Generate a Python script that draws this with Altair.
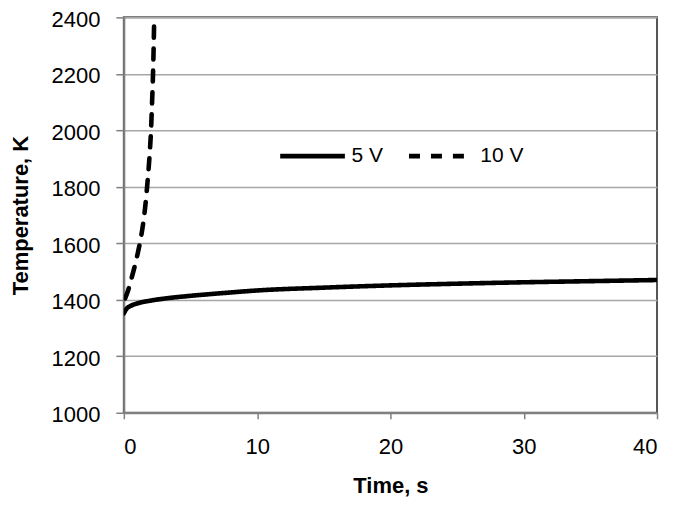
import altair as alt
import pandas as pd

t5 = [0, 0.2, 0.5, 1, 2, 3, 5, 7.5, 10, 15, 20, 25, 30, 35, 40]
T5 = [1352, 1368, 1378, 1387, 1397, 1404, 1414, 1424, 1433, 1443, 1451, 1457, 1462, 1466, 1470]

t10 = [0.1, 0.3, 0.6, 0.9, 1.2, 1.45, 1.65, 1.8, 1.93, 2.04, 2.12, 2.19, 2.24, 2.28]
T10 = [1405, 1430, 1480, 1535, 1600, 1670, 1750, 1830, 1910, 2000, 2100, 2200, 2300, 2400]

series = ["5 V", "10 V"]

df = pd.concat([
    pd.DataFrame({"t": t5, "T": T5, "s": series[0], "o": range(len(t5))}),
    pd.DataFrame({"t": t10, "T": T10, "s": series[1], "o": range(len(t10))}),
])

FONT = "Liberation Sans"

chart = alt.Chart(df).mark_line(color="black", strokeWidth=4.6, interpolate="monotone",
                                clip=True, strokeCap="round").encode(
    x=alt.X("t:Q", title="Time, s",
            scale=alt.Scale(domain=[0, 40], nice=False),
            axis=alt.Axis(values=[0, 10, 20, 30, 40], grid=False, tickSize=6, format="d",
                          labelPadding=18, titlePadding=18)),
    y=alt.Y("T:Q", title="Temperature, K",
            scale=alt.Scale(domain=[1000, 2400], nice=False),
            axis=alt.Axis(values=list(range(1000, 2401, 200)), grid=True, tickSize=8,
                          format="d", labelPadding=16, labelOffset=2, titlePadding=19)),
    strokeDash=alt.StrokeDash("s:N", title=None,
                              scale=alt.Scale(domain=series, range=[[1, 0], [11, 11]]),
                              legend=alt.Legend(orient="none", legendX=154, legendY=104,
                                                direction="horizontal", symbolType="stroke",
                                                symbolSize=4200, symbolStrokeWidth=4.6,
                                                symbolStrokeColor="black",
                                                labelFontSize=21, labelFont=FONT,
                                                labelColor="black", labelOffset=4,
                                                columnPadding=16)),
    order="o:Q",
).properties(
    width=534, height=396,
    autosize=alt.AutoSizeParams(type="none"),
    padding={"left": 116, "top": 9, "right": 10, "bottom": 90},
).configure_view(
    stroke="#555555", strokeWidth=2
).configure_axis(
    labelFont=FONT, labelFontSize=22, labelColor="black",
    titleFont=FONT, titleFontSize=22, titleFontWeight="bold", titleColor="black",
    domainColor="#808080", domainWidth=2, tickColor="#808080", tickWidth=1.5,
    gridColor="#a6a6a6", gridWidth=1.5,
)

chart.save("out.html", embed_options={"renderer": "svg", "actions": False})
